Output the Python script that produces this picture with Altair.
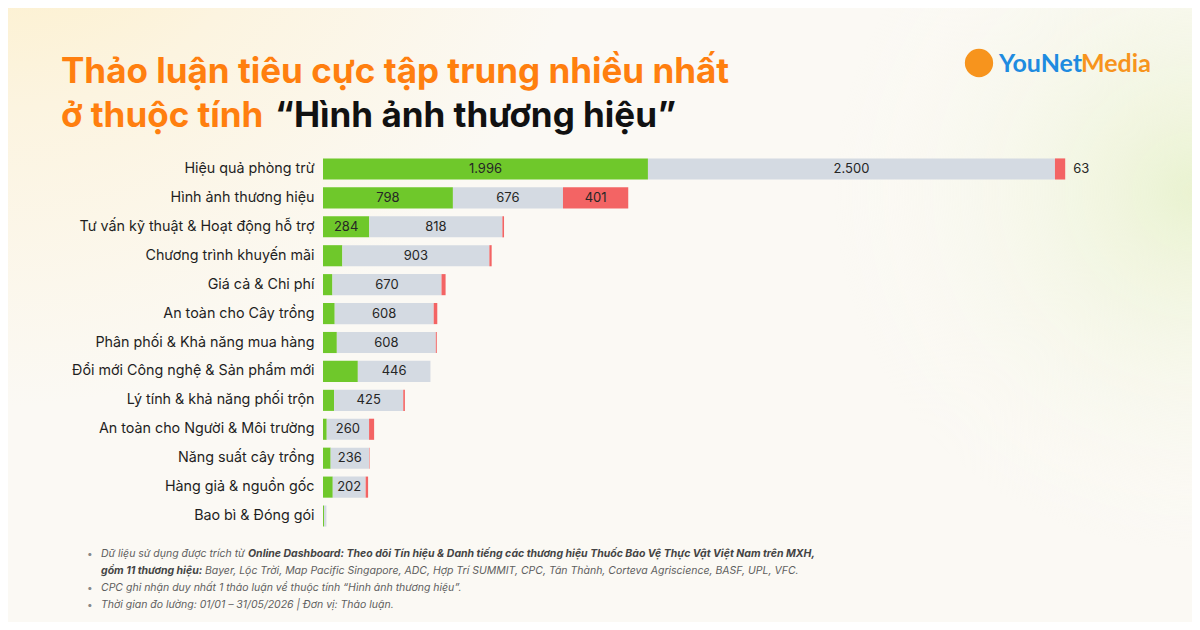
import altair as alt
import pandas as pd

categories = [
    "Hiệu quả phòng trừ",
    "Hình ảnh thương hiệu",
    "Tư vấn kỹ thuật & Hoạt động hỗ trợ",
    "Chương trình khuyến mãi",
    "Giá cả & Chi phí",
    "An toàn cho Cây trồng",
    "Phân phối & Khả năng mua hàng",
    "Đổi mới Công nghệ & Sản phẩm mới",
    "Lý tính & khả năng phối trộn",
    "An toàn cho Người & Môi trường",
    "Năng suất cây trồng",
    "Hàng giả & nguồn gốc",
    "Bao bì & Đóng gói",
]
positive = [1996, 798, 284, 119, 58, 72, 85, 214, 68, 23, 47, 60, 6]
neutral = [2500, 676, 818, 903, 670, 608, 608, 446, 425, 260, 236, 202, 15]
negative = [63, 401, 10, 14, 25, 22, 6, 0, 10, 31, 3, 15, 0]

sentiments = ["Tích cực", "Trung lập", "Tiêu cực"]
colors = ["#6FC82B", "#D4DAE2", "#F36464"]
inside_min = [250, 100, 200]
outside_min = [100000, 100000, 50]

rows = []
for i, c in enumerate(categories):
    for k, vals in enumerate([positive, neutral, negative]):
        v = vals[i]
        lab = f"{v:,}".replace(",", ".")
        rows.append(dict(
            cat=c, sent=sentiments[k], order=k, value=v,
            inside=lab if v >= inside_min[k] else "",
            outside=lab if (outside_min[k] <= v < inside_min[k]) else "",
        ))
df = pd.DataFrame(rows)

W, H = 814, 376
OX, OY = 323, 154.5
FONT = "Inter"

base = alt.Chart(df).transform_stack(
    stack="value", groupby=["cat"], as_=["x0", "x1"],
    sort=[alt.SortField("order", order="ascending")]
).transform_calculate(mid="(datum.x0 + datum.x1) / 2")

yenc = alt.Y("cat:N", sort=categories,
             scale=alt.Scale(paddingInner=0.27, paddingOuter=0.135),
             axis=alt.Axis(title=None, domain=False, ticks=False, labelPadding=9,
                           labelFontSize=14.3, labelFont=FONT, labelColor="#1f1f1f",
                           labelLimit=400, zindex=2))
xscale = alt.Scale(domain=[0, 5000])

bars = base.mark_bar().encode(
    y=yenc,
    x=alt.X("x0:Q", scale=xscale, axis=None),
    x2="x1:Q",
    color=alt.Color("sent:N", scale=alt.Scale(domain=sentiments, range=colors), legend=None),
)

inside_txt = base.transform_filter("datum.inside != ''").mark_text(
    font=FONT, fontSize=13, color="#262626"
).encode(y=alt.Y("cat:N", sort=categories), x=alt.X("mid:Q", scale=xscale), text="inside:N")

outside_txt = base.transform_filter("datum.outside != ''").mark_text(
    font=FONT, fontSize=13, color="#262626", align="left", dx=8
).encode(y=alt.Y("cat:N", sort=categories), x=alt.X("x1:Q", scale=xscale), text="outside:N")

one = pd.DataFrame({"a": [0]})


def txt(s, ax, ay, size, color, weight="normal", style="normal", align="left", font=FONT):
    return alt.Chart(one).mark_text(
        text=s, font=font, fontSize=size, color=color, fontWeight=weight,
        fontStyle=style, align=align, baseline="alphabetic"
    ).encode(x=alt.value(ax - OX), y=alt.value(ay - OY))


bg = alt.Chart(one).mark_rect().encode(
    x=alt.value(-OX), x2=alt.value(1192 - OX), y=alt.value(-OY), y2=alt.value(622 - OY),
    color=alt.value({"gradient": "radial", "x1": 0.0, "y1": 0.08, "x2": 0.0, "y2": 0.08,
                     "r1": 0, "r2": 0.5,
                     "stops": [{"offset": 0, "color": "#FDEDBE"},
                               {"offset": 0.5, "color": "#FCF4E0"},
                               {"offset": 1, "color": "#FBF9F4"}]}),
)
bg2 = alt.Chart(one).mark_rect().encode(
    x=alt.value(-OX), x2=alt.value(1192 - OX), y=alt.value(-OY), y2=alt.value(622 - OY),
    color=alt.value({"gradient": "radial", "x1": 1.0, "y1": 0.4, "x2": 1.0, "y2": 0.4,
                     "r1": 0, "r2": 0.3,
                     "stops": [{"offset": 0, "color": "rgba(232,242,205,0.9)"},
                               {"offset": 1, "color": "rgba(251,249,244,0)"}]}),
)

orange = "#FF7F0F"
title_layers = [
    txt("Thảo luận tiêu cực tập trung nhiều nhất", 61, 83, 35, orange, "bold"),
    txt("ở thuộc tính", 61, 127, 35, orange, "bold"),
    txt("“Hình ảnh thương hiệu”", 275, 127, 35, "#111111", "bold"),
]

logo_circle = alt.Chart(one).mark_point(filled=True, size=800, color="#F7941D", opacity=1).encode(
    x=alt.value(979 - OX), y=alt.value(63 - OY))
logo_layers = [
    logo_circle,
    txt("YouNet", 999, 72, 25, "#1E8BE0", "bold", font="Lato"),
    txt("Media", 1081, 72, 25, "#F7941D", "bold", font="Lato"),
]

fc = "#5f5f5f"
foot_layers = [
    txt("•", 87, 557, 10, "#888888"),
    txt("Dữ liệu sử dụng được trích từ", 101, 557, 10.5, fc, style="italic"),
    txt("Online Dashboard: Theo dõi Tín hiệu & Danh tiếng các thương hiệu Thuốc Bảo Vệ Thực Vật Việt Nam trên MXH,",
        248, 557, 10.5, "#444444", "bold", "italic"),
    txt("gồm 11 thương hiệu:", 101, 574, 10.5, "#444444", "bold", "italic"),
    txt("Bayer, Lộc Trời, Map Pacific Singapore, ADC, Hợp Trí SUMMIT, CPC, Tân Thành, Corteva Agriscience, BASF, UPL, VFC.",
        205, 574, 10.5, fc, style="italic"),
    txt("•", 87, 591, 10, "#888888"),
    txt("CPC ghi nhận duy nhất 1 thảo luận về thuộc tính “Hình ảnh thương hiệu”.", 101, 591, 10.5, fc, style="italic"),
    txt("•", 87, 608, 10, "#888888"),
    txt("Thời gian đo lường: 01/01 – 31/05/2026 | Đơn vị: Thảo luận.", 101, 608, 10.5, fc, style="italic"),
]

chart = alt.layer(
    bg, bg2, bars, inside_txt, outside_txt, *title_layers, *logo_layers, *foot_layers
).properties(
    width=W, height=H,
    autosize=alt.AutoSizeParams(type="none"),
    padding={"left": OX - 8, "top": OY - 8, "right": 1192 - OX - W, "bottom": 622 - OY - H},
    background="#FBF9F4",
).configure_view(stroke=None)

chart.save("out.html", embed_options={"renderer": "svg", "actions": False})
